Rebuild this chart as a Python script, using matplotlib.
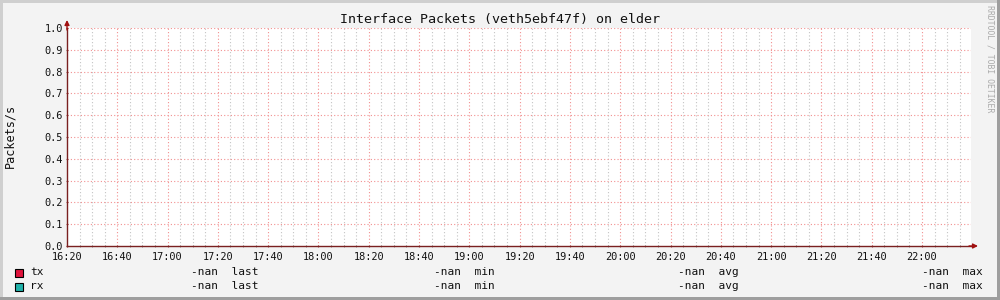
import numpy as np
import matplotlib
matplotlib.use("Agg")
import matplotlib.pyplot as plt
from matplotlib.patches import Rectangle

# ---- data ----
title = "Interface Packets (veth5ebf47f) on elder"
y_label = "Packets/s"
time_labels = ["16:20", "16:40", "17:00", "17:20", "17:40", "18:00", "18:20",
               "18:40", "19:00", "19:20", "19:40", "20:00", "20:20", "20:40",
               "21:00", "21:20", "21:40", "22:00"]
minutes = list(range(0, 360, 5))          # sample times, minutes after 16:20
tx_values = [np.nan] * len(minutes)        # no data recorded
rx_values = [np.nan] * len(minutes)
series_names = ["tx", "rx"]
series_colors = ["#e0143c", "#20b2aa"]
stat_names = ["last", "min", "avg", "max"]
stat_values = {"tx": ["-nan", "-nan", "-nan", "-nan"],
               "rx": ["-nan", "-nan", "-nan", "-nan"]}
y_ticks = [0.0, 0.1, 0.2, 0.3, 0.4, 0.5, 0.6, 0.7, 0.8, 0.9, 1.0]

FONT = "DejaVu Sans Mono"
W, H = 1000, 300
fig = plt.figure(figsize=(10, 3), dpi=100)
fig.patch.set_facecolor("#f3f3f3")

def fx(px): return px / W
def fy(py): return 1 - py / H

# frame shading
fig.add_artist(Rectangle((0, fy(3)), 1, 3 / H, transform=fig.transFigure, color="#cfcfcf", lw=0))
fig.add_artist(Rectangle((0, 0), 3 / W, 1, transform=fig.transFigure, color="#cfcfcf", lw=0))
fig.add_artist(Rectangle((0, 0), 1, 3 / H, transform=fig.transFigure, color="#9e9e9e", lw=0))
fig.add_artist(Rectangle((fx(997), 0), 3 / W, 1, transform=fig.transFigure, color="#9e9e9e", lw=0))

L, R, T, B = 67, 971, 28, 246
ax = fig.add_axes([fx(L), fy(B), fx(R - L), (B - T) / H])
ax.set_facecolor("white")

ax.plot(minutes, tx_values, color=series_colors[0], lw=1)
ax.plot(minutes, rx_values, color=series_colors[1], lw=1)

ax.set_xlim(0, 359.5)
ax.set_ylim(0, 1.0)

LW = 0.8
DOT = (0, (1, 2))
# grids
for m in range(5, 360, 5):
    if m % 20:
        ax.axvline(m, color="#c4c4c4", lw=LW, ls=DOT, zorder=0)
for i in range(1, len(time_labels)):
    ax.axvline(i * 20, color="#f29090", lw=LW, ls=DOT, zorder=0.5)
for v in y_ticks[1:]:
    ax.axhline(v, color="#f29090", lw=LW, ls=DOT, zorder=0.5)

ax.set_xticks([i * 20 for i in range(len(time_labels))])
ax.set_xticklabels(time_labels, fontfamily=FONT, fontsize=7.4, color="#111111")
ax.set_xticks(minutes, minor=True)
ax.set_yticks(y_ticks)
ax.set_yticklabels([f"{v:.1f}" for v in y_ticks], fontfamily=FONT, fontsize=7.4, color="#111111")
ax.tick_params(axis="both", which="major", length=2, width=0.8, color="#a05050", pad=2, direction="inout")
ax.tick_params(axis="x", which="minor", length=2, width=0.7, color="#909090", direction="inout")
ax.tick_params(axis="x", which="major", pad=3)

for s in ["top", "right"]:
    ax.spines[s].set_visible(False)
for s in ["left", "bottom"]:
    ax.spines[s].set_color("#7a2020")
    ax.spines[s].set_linewidth(1)

# axis arrows
ax.annotate("", xy=(fx(978), fy(B)), xytext=(fx(R - 2), fy(B)), xycoords="figure fraction",
            arrowprops=dict(arrowstyle="-|>", color="#a01010", lw=1, mutation_scale=7, shrinkA=0, shrinkB=0))
ax.annotate("", xy=(fx(L), fy(20)), xytext=(fx(L), fy(T + 2)), xycoords="figure fraction",
            arrowprops=dict(arrowstyle="-|>", color="#a01010", lw=1, mutation_scale=7, shrinkA=0, shrinkB=0))

# title & labels
fig.text(0.5, fy(19), title, ha="center", va="center", fontfamily=FONT, fontsize=9.6, color="#111111")
fig.text(fx(10), fy(136), y_label, ha="center", va="center", rotation=90,
         fontfamily=FONT, fontsize=8.5, color="#111111")
fig.text(fx(990), fy(5), "RRDTOOL / TOBI OETIKER", ha="center", va="top", rotation=270,
         fontfamily=FONT, fontsize=5.9, color="#aaaaaa")

# legend
row_y = [272, 286]
stat_x = [191, 434, 678, 922]
for r, name in enumerate(series_names):
    y = row_y[r]
    fig.add_artist(Rectangle((fx(15), fy(y + 4.5)), 8 / W, 8 / H, transform=fig.transFigure,
                             facecolor=series_colors[r], edgecolor="black", lw=0.8))
    fig.text(fx(30), fy(y), name, ha="left", va="center", fontfamily=FONT, fontsize=8.0, color="#111111")
    for k, sn in enumerate(stat_names):
        fig.text(fx(stat_x[k]), fy(y), f"{stat_values[name][k]}  {sn}", ha="left", va="center",
                 fontfamily=FONT, fontsize=8.0, color="#111111")

fig.savefig("out.png", dpi=100, facecolor=fig.get_facecolor())
